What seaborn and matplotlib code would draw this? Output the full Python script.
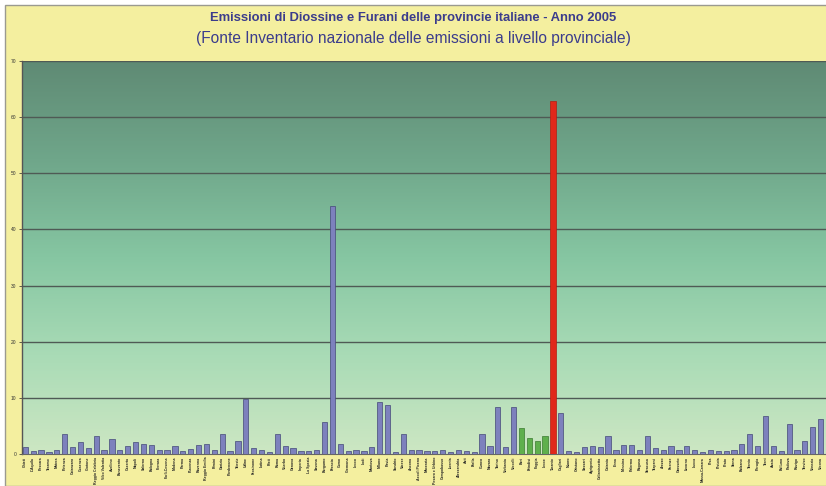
import numpy as np
import pandas as pd
import matplotlib
matplotlib.use("Agg")
import matplotlib.pyplot as plt
from matplotlib.colors import LinearSegmentedColormap
from matplotlib.patches import Rectangle
import seaborn as sns

# Provinces grouped by region (alphabetical), emissions of dioxins and furans, 2005
provinces = [
    "Chieti", "L'Aquila", "Pescara", "Teramo",
    "Matera", "Potenza",
    "Catanzaro", "Cosenza", "Crotone", "Reggio Calabria", "Vibo Valentia",
    "Avellino", "Benevento", "Caserta", "Napoli", "Salerno",
    "Bologna", "Ferrara", "Forlì-Cesena", "Modena", "Parma", "Piacenza",
    "Ravenna", "Reggio Emilia", "Rimini",
    "Gorizia", "Pordenone", "Trieste", "Udine",
    "Frosinone", "Latina", "Rieti", "Roma", "Viterbo",
    "Genova", "Imperia", "La Spezia", "Savona",
    "Bergamo", "Brescia", "Como", "Cremona", "Lecco", "Lodi", "Mantova",
    "Milano", "Pavia", "Sondrio", "Varese",
    "Ancona", "Ascoli Piceno", "Macerata", "Pesaro e Urbino",
    "Campobasso", "Isernia",
    "Alessandria", "Asti", "Biella", "Cuneo", "Novara", "Torino",
    "Verbania", "Vercelli",
    "Bari", "Brindisi", "Foggia", "Lecce", "Taranto",
    "Cagliari", "Nuoro", "Oristano", "Sassari",
    "Agrigento", "Caltanissetta", "Catania", "Enna", "Messina", "Palermo",
    "Ragusa", "Siracusa", "Trapani",
    "Arezzo", "Firenze", "Grosseto", "Livorno", "Lucca", "Massa-Carrara",
    "Pisa", "Pistoia", "Prato", "Siena",
    "Bolzano", "Trento",
    "Perugia", "Terni",
    "Aosta",
    "Belluno", "Padova", "Rovigo", "Treviso", "Venezia", "Verona",
]

emissions = [
    1.24, 0.5, 0.65, 0.4,
    0.8, 3.5,
    1.3, 2.2, 1.1, 3.25, 0.75,
    2.65, 0.65, 1.5, 2.1, 1.7,
    1.65, 0.8, 0.75, 1.5, 0.5, 0.9, 1.6, 1.8, 0.65,
    3.5, 0.6, 2.25, 9.75,
    1.05, 0.8, 0.4, 3.55, 1.35,
    1.1, 0.45, 0.45, 0.7,
    5.75, 44.1, 1.7, 0.5, 0.8, 0.5, 1.3, 9.2, 8.7, 0.3, 3.5,
    0.8, 0.75, 0.6, 0.6,
    0.65, 0.4,
    0.75, 0.6, 0.4, 3.55, 1.35, 8.45, 1.3, 8.4,
    4.55, 2.8, 2.4, 3.2, 62.8,
    7.35, 0.6, 0.35, 1.2,
    1.5, 1.25, 3.2, 0.7, 1.55, 1.65, 0.8, 3.15, 1.1,
    0.75, 1.35, 0.65, 1.35, 0.8, 0.4, 0.65, 0.6, 0.6, 0.65,
    1.7, 3.5,
    1.35, 6.75,
    1.35,
    0.45, 5.3, 0.7, 2.3, 4.75, 6.15,
]

puglia = ["Bari", "Brindisi", "Foggia", "Lecce"]
highlight = "Taranto"

y_ticks = [0, 10, 20, 30, 40, 50, 60, 70]

title = "Emissioni di Diossine e Furani delle provincie italiane - Anno 2005"
subtitle = "(Fonte Inventario nazionale delle emissioni a livello provinciale)"

df = pd.DataFrame({"provincia": provinces, "emissioni": emissions})

BLUE = "#7d81bd"
GREEN = "#5fb04d"
RED = "#e0281a"
palette = {}
for p in provinces:
    if p == highlight:
        palette[p] = RED
    elif p in puglia:
        palette[p] = GREEN
    else:
        palette[p] = BLUE

sns.set_theme(style="white")
plt.rcParams["font.family"] = ["Liberation Sans", "DejaVu Sans"]

W, H = 826, 486
fig = plt.figure(figsize=(W / 100, H / 100), dpi=100, facecolor="white")

# yellow frame behind the chart
fig.patches.append(Rectangle((5 / W, 0), 1 - 5 / W + 0.01, 1 - 5 / H,
                             transform=fig.transFigure, facecolor="#f4ef9f",
                             edgecolor="#9a9a90", linewidth=1.0, zorder=-5))

ax = fig.add_axes([22 / W, 32 / H, 1 - 22 / W, (454 - 61) / H])
ax.set_zorder(2)

sns.barplot(data=df, x="provincia", y="emissioni", hue="provincia",
            palette=palette, saturation=1, legend=False, width=0.66, ax=ax,
            edgecolor="#444878", linewidth=0.5, zorder=3)

# the highlighted bars keep outlines in their own hue
for bar, name in zip(ax.patches, provinces):
    if name == highlight:
        bar.set_edgecolor("#b01e12")
    elif name in puglia:
        bar.set_edgecolor("#3a7a30")

xlim = (-0.42, 101.68)
ax.set_xlim(*xlim)
ax.set_ylim(0, 70)

# vertical gradient in the plotting area
grad_cmap = LinearSegmentedColormap.from_list(
    "bg", ["#cde7c3", "#a9dbb6", "#86c6a2", "#6fa68a", "#5f8a74"])
grad = np.linspace(0, 1, 256).reshape(-1, 1)
ax.imshow(grad, cmap=grad_cmap, origin="lower", aspect="auto",
          extent=[xlim[0], xlim[1], 0, 70], zorder=0)

ax.set_yticks(y_ticks)
ax.set_yticklabels([str(v) for v in y_ticks], fontsize=3.5, color="#333333")
for v in y_ticks[1:]:
    ax.axhline(v, color="#4f5a55", linewidth=1.0, zorder=1)

ax.tick_params(axis="y", length=2, width=0.5, pad=2, left=True)
ax.tick_params(axis="x", length=0, pad=2)
ax.set_xticks(range(len(provinces)))
ax.set_xticklabels(provinces, rotation=90, fontsize=2.5, color="#222222",
                   fontweight="bold")
ax.set_xlabel("")
ax.set_ylabel("")

for side in ["top", "right"]:
    ax.spines[side].set_visible(False)
ax.spines["left"].set_color("#555555")
ax.spines["left"].set_linewidth(1.0)
ax.spines["bottom"].set_color("#666666")
ax.spines["bottom"].set_linewidth(0.8)

fig.text(413 / W, 1 - 18 / H, title, ha="center", va="center",
         fontsize=9.4, fontweight="bold", color="#3b3c8c")
fig.text(413 / W, 1 - 39 / H, subtitle, ha="center", va="center",
         fontsize=11.2, color="#3b3c8c")

fig.savefig("out.png", dpi=100, facecolor=fig.get_facecolor())
